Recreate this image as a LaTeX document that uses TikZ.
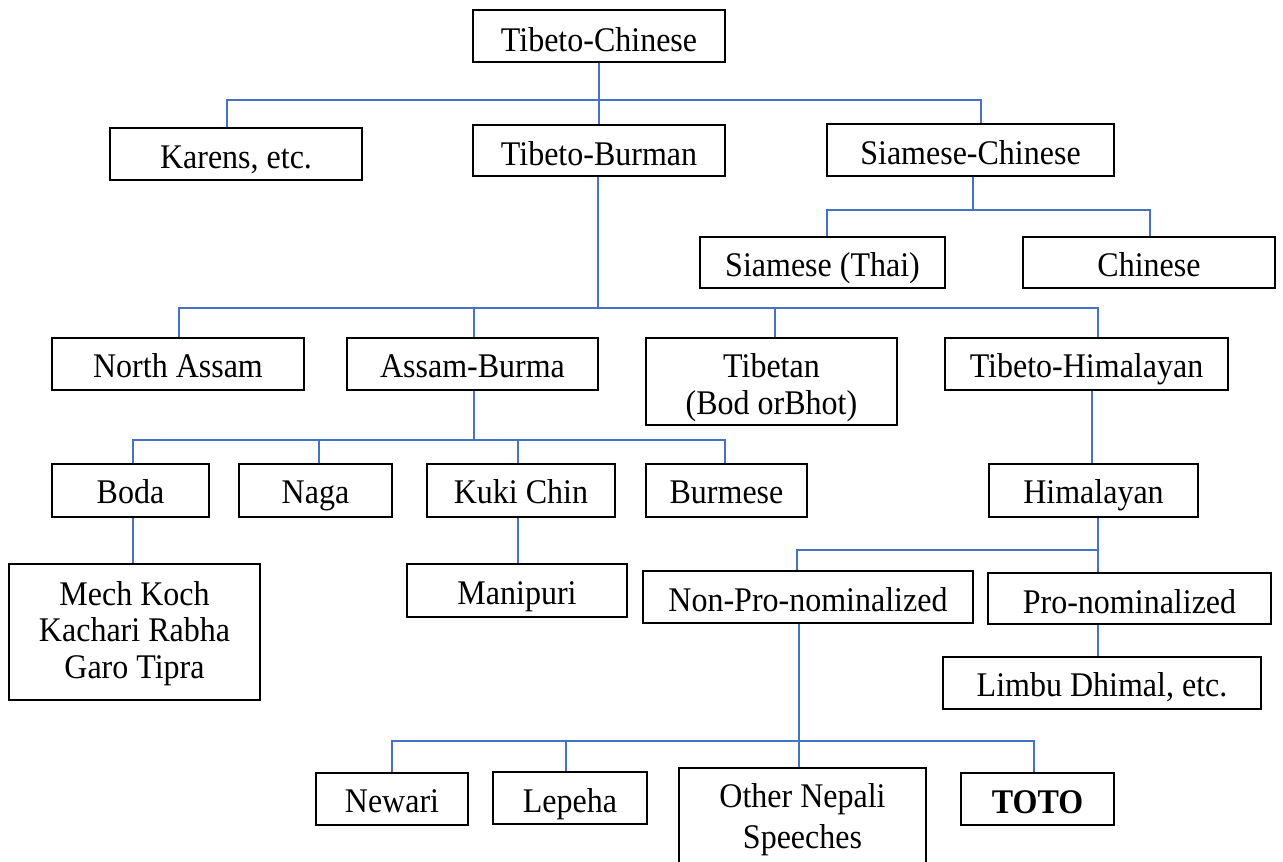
\documentclass[tikz,border=0pt]{standalone}
\usepackage{fontspec}
\setmainfont{Liberation Serif}
\definecolor{conncol}{RGB}{68,114,196}
\newcommand{\tall}[1]{\scalebox{1}[1.08]{#1}}
\tikzset{
  box/.style={draw=black, line width=1.3pt, inner sep=0pt},
  lbl/.style={anchor=base, inner sep=0pt, font=\fontsize{32}{36}\selectfont},
  conn/.style={draw=conncol, line width=1.6pt},
}
\newcommand{\mybox}[5]{%
  \node[box, minimum width={(#4-#2)*1pt}, minimum height={(#5-#3)*1pt}] (#1) at ({(#2+#4)/2},{(#3+#5)/2}) {};}
\begin{document}
\begin{tikzpicture}[x=1pt,y=-1pt]
\useasboundingbox (0,0) rectangle (1283,862);
\clip (0,0) rectangle (1283,862);
\fill[white] (0,0) rectangle (1283,862);

% boxes
\mybox{tc}{473}{10}{725}{62}
\mybox{kar}{110}{128}{362}{180}
\mybox{tb}{473}{125}{725}{176}
\mybox{sc}{827}{124}{1114}{176}
\mybox{st}{700}{237}{945}{288}
\mybox{ch}{1023}{237}{1275}{288}
\mybox{na}{52}{338}{304}{390}
\mybox{ab}{347}{338}{598}{390}
\mybox{tib}{646}{338}{897}{425}
\mybox{th}{945}{338}{1228}{390}
\mybox{boda}{52}{464}{209}{517}
\mybox{naga}{239}{464}{392}{517}
\mybox{kuki}{427}{464}{615}{517}
\mybox{bur}{646}{464}{807}{517}
\mybox{him}{989}{464}{1198}{517}
\mybox{mech}{9}{564}{260}{700}
\mybox{mani}{407}{564}{627}{617}
\mybox{np}{643}{571}{973}{623}
\mybox{pro}{988}{573}{1271}{624}
\mybox{lim}{943}{657}{1261}{709}
\mybox{new}{316}{773}{468}{825}
\mybox{lep}{493}{772}{647}{824}
\mybox{oth}{679}{768}{926}{900}
\mybox{toto}{961}{773}{1114}{825}

% labels
\node[lbl] (tc-t) at (tc |- 0,51) {\tall{Tibeto-Chinese}};
\node[lbl] (kar-t) at (kar |- 0,168) {\tall{Karens, etc.}};
\node[lbl] (tb-t) at (tb |- 0,165) {\tall{Tibeto-Burman}};
\node[lbl] (sc-t) at (sc |- 0,164) {\tall{Siamese-Chinese}};
\node[lbl] (st-t) at (st |- 0,276) {\tall{Siamese (Thai)}};
\node[lbl] (ch-t) at (ch |- 0,276) {\tall{Chinese}};
\node[lbl] (na-t) at (na |- 0,377) {\tall{North Assam}};
\node[lbl] (ab-t) at (ab |- 0,377) {\tall{Assam-Burma}};
\node[lbl] (tib-t1) at (tib |- 0,377) {\tall{Tibetan}};
\node[lbl] (tib-t2) at (tib |- 0,414) {\tall{(Bod orBhot)}};
\node[lbl] (th-t) at (th |- 0,377) {\tall{Tibeto-Himalayan}};
\node[lbl] (boda-t) at (boda |- 0,503) {\tall{Boda}};
\node[lbl] (naga-t) at (naga |- 0,503) {\tall{Naga}};
\node[lbl] (kuki-t) at (kuki |- 0,503) {\tall{Kuki Chin}};
\node[lbl] (bur-t) at (bur |- 0,503) {\tall{Burmese}};
\node[lbl] (him-t) at (him |- 0,503) {\tall{Himalayan}};
\node[lbl] (mech-t1) at (mech |- 0,605) {\tall{Mech Koch}};
\node[lbl] (mech-t2) at (mech |- 0,641) {\tall{Kachari Rabha}};
\node[lbl] (mech-t3) at (mech |- 0,678) {\tall{Garo Tipra}};
\node[lbl] (mani-t) at (mani |- 0,604) {\tall{Manipuri}};
\node[lbl] (np-t) at (np |- 0,611) {\tall{Non-Pro-nominalized}};
\node[lbl] (pro-t) at (pro |- 0,613) {\tall{Pro-nominalized}};
\node[lbl] (lim-t) at (lim |- 0,696) {\tall{Limbu Dhimal, etc.}};
\node[lbl] (new-t) at (new |- 0,812) {\tall{Newari}};
\node[lbl] (lep-t) at (lep |- 0,812) {\tall{Lepeha}};
\node[lbl] (oth-t1) at (oth |- 0,807) {\tall{Other Nepali}};
\node[lbl] (oth-t2) at (oth |- 0,848) {\tall{Speeches}};
\node[lbl] (toto-t) at (toto |- 0,813) {\tall{\textbf{TOTO}}};

% junction coordinates
\coordinate (j1L) at (227,100);
\coordinate (j1R) at (981,100);
\coordinate (j2) at (973,210);
\coordinate (j2L) at (827,210);
\coordinate (j2R) at (1150,210);
\coordinate (j3) at (598,308);
\coordinate (j3a) at (179,308);
\coordinate (j3b) at (474,308);
\coordinate (j3c) at (775,308);
\coordinate (j3d) at (1098,308);
\coordinate (j4) at (474,440);
\coordinate (j4a) at (133,440);
\coordinate (j4b) at (319,440);
\coordinate (j4c) at (518,440);
\coordinate (j4d) at (725,440);
\coordinate (j5) at (1092,390);
\coordinate (j6) at (1098,550);
\coordinate (j6a) at (797,550);
\coordinate (j7) at (1098,624);
\coordinate (j8) at (799,741);
\coordinate (j8a) at (392,741);
\coordinate (j8b) at (566,741);
\coordinate (j8c) at (1034,741);

% connectors
\draw[conn] (tc.south) -- (tb.north);
\draw[conn] (kar.north -| j1L) -- (j1L) -- (j1R) -- (j1R |- sc.north);

\draw[conn] (sc.south -| j2) -- (j2);
\draw[conn] (st.north -| j2L) -- (j2L) -- (j2R) -- (j2R |- ch.north);

\draw[conn] (tb.south -| j3) -- (j3);
\draw[conn] (na.north -| j3a) -- (j3a) -- (j3d) -- (j3d |- th.north);
\draw[conn] (j3b) -- (j3b |- ab.north);
\draw[conn] (j3c) -- (j3c |- tib.north);

\draw[conn] (ab.south -| j4) -- (j4);
\draw[conn] (boda.north -| j4a) -- (j4a) -- (j4d) -- (j4d |- bur.north);
\draw[conn] (j4b) -- (j4b |- naga.north);
\draw[conn] (j4c) -- (j4c |- kuki.north);

\draw[conn] (boda.south -| j4a) -- (j4a |- mech.north);
\draw[conn] (kuki.south -| j4c) -- (j4c |- mani.north);

\draw[conn] (th.south -| j5) -- (j5 |- him.north);

\draw[conn] (him.south -| j6) -- (j6 |- pro.north);
\draw[conn] (np.north -| j6a) -- (j6a) -- (j6);

\draw[conn] (pro.south -| j7) -- (j7 |- lim.north);

\draw[conn] (np.south -| j8) -- (j8 |- oth.north);
\draw[conn] (new.north -| j8a) -- (j8a) -- (j8c) -- (j8c |- toto.north);
\draw[conn] (j8b) -- (j8b |- lep.north);
\end{tikzpicture}
\end{document}
